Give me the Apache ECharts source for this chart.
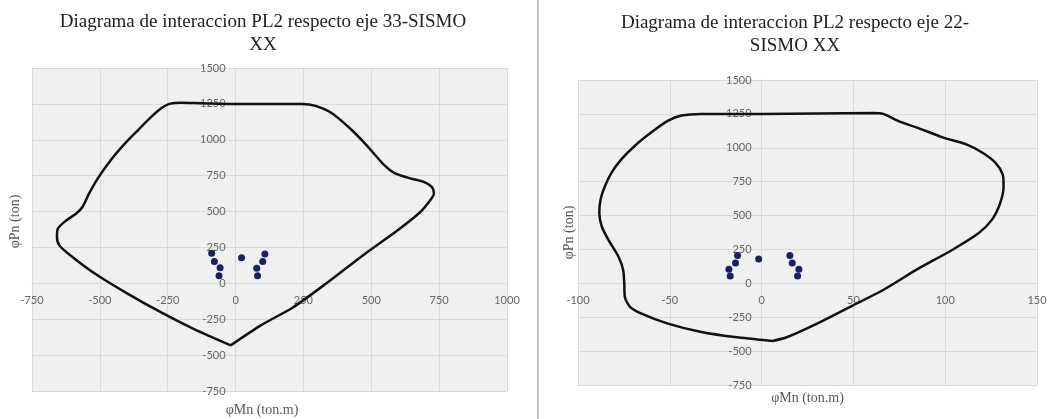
<!DOCTYPE html>
<html>
<head>
<meta charset="utf-8">
<title>Diagrama de interaccion PL2</title>
<script src="https://cdn.jsdelivr.net/npm/echarts@6/dist/echarts.min.js"></script>
<style>
  html, body { margin: 0; padding: 0; background: #fff; }
  #chart { width: 1058px; height: 419px; }
</style>
</head>
<body>
<div id="chart"></div>
<script>
// ticks of both charts
const xTicks33 = [-750, -500, -250, 0, 250, 500, 750, 1000];
const xTicks22 = [-100, -50, 0, 50, 100, 150];
const yTicks = [-750, -500, -250, 0, 250, 500, 750, 1000, 1250, 1500];

// interaction curve eje 33 [phiMn, phiPn]
const curve33 = [
  [-18, -432], [-153, -319], [-274, -203], [-395, -75], [-516, 65], [-600, 182],
  [-649, 264], [-658, 322], [-655, 380], [-624, 438], [-588, 485], [-564, 532],
  [-540, 625], [-504, 742], [-455, 870], [-407, 975], [-359, 1068], [-310, 1161],
  [-274, 1220], [-244, 1250], [-202, 1258], [-129, 1255], [0, 1250], [247, 1250],
  [295, 1236], [355, 1185], [428, 1068], [488, 951], [548, 823], [584, 770],
  [645, 730], [693, 707], [723, 672], [731, 625], [717, 578], [681, 497],
  [596, 368], [476, 205], [331, -5], [211, -168], [90, -296], [-18, -432]
];
// demand points eje 33
const loads33 = [
  [-88, 209], [-78, 152], [-57, 109], [-61, 52], [22, 179],
  [108, 205], [100, 152], [78, 105], [81, 52]
];

// interaction curve eje 22
const curve22 = [
  [6, -425], [-14.7, -396], [-32.8, -359], [-51, -297], [-65.4, -223], [-71.7, -173],
  [-74.5, -99], [-74.8, 0], [-75.4, 99], [-78, 198], [-83.5, 322], [-87.1, 421],
  [-88.4, 520], [-87.7, 619], [-85.3, 718], [-81.7, 817], [-76.3, 916], [-69, 1015],
  [-60, 1114], [-50.9, 1200], [-43.7, 1238], [-32.8, 1250], [0, 1250], [60.8, 1256],
  [66.2, 1250], [75.2, 1193], [84.2, 1151], [98.6, 1077], [111.2, 1027], [120.1, 965],
  [127.3, 891], [131.3, 804], [131.8, 718], [130, 594], [125.5, 470], [118.3, 371],
  [104, 248], [84.2, 99], [66.2, -49], [48.2, -173], [30.2, -297], [14, -396], [6, -425]
];
// demand points eje 22
const loads22 = [
  [-13.1, 206], [-14.2, 150], [-17.8, 103], [-17.1, 54], [-1.6, 179],
  [15.4, 206], [16.7, 150], [20.3, 103], [19.6, 54]
];

const titles = [
  'Diagrama de interaccion PL2 respecto eje 33-SISMO\nXX',
  'Diagrama de interaccion PL2 respecto eje 22-\nSISMO XX'
];

// plot boxes
const grids = [
  { left: 32, top: 68, width: 475, height: 323 },
  { left: 578, top: 80, width: 459, height: 305 }
];

const gridColor = '#dadada';
const labelStyle = { color: '#666', fontFamily: 'Lato', fontSize: 11, formatter: v => String(v) };
const nameStyle = { color: '#595959', fontFamily: 'Liberation Serif', fontSize: 14 };

// distance from the low plot edge to the zero line (axes cross at 0 like excel)
function zeroShift(ticks, size) {
  const lo = ticks[0], hi = ticks[ticks.length - 1];
  return (0 - lo) / (hi - lo) * size;
}

function titleOpt(text, x, y) {
  return {
    text: text,
    left: x,
    top: y,
    padding: 0,
    textAlign: 'center',
    textStyle: {
      fontFamily: 'Liberation Serif',
      fontSize: 19,
      fontWeight: 'normal',
      color: '#222',
      lineHeight: 23
    }
  };
}

function xAxisOpt(idx, ticks, gap, pad) {
  const g = grids[idx];
  return {
    type: 'value',
    gridIndex: idx,
    position: 'bottom',
    offset: -zeroShift(yTicks, g.height),
    min: ticks[0],
    max: ticks[ticks.length - 1],
    interval: ticks[1] - ticks[0],
    name: 'φMn (ton.m)',
    nameLocation: 'middle',
    nameGap: gap,
    nameTextStyle: Object.assign({ padding: pad }, nameStyle),
    axisLine: { show: true, onZero: false, lineStyle: { color: gridColor, width: 1 } },
    axisTick: { show: false },
    axisLabel: Object.assign({ margin: 12 }, labelStyle),
    splitLine: { show: true, lineStyle: { color: gridColor, width: 1 } }
  };
}

function yAxisOpt(idx, ticksX, gap, pad) {
  const g = grids[idx];
  return {
    type: 'value',
    gridIndex: idx,
    position: 'left',
    offset: -zeroShift(ticksX, g.width),
    min: yTicks[0],
    max: yTicks[yTicks.length - 1],
    interval: yTicks[1] - yTicks[0],
    name: 'φPn (ton)',
    nameLocation: 'middle',
    nameGap: gap,
    nameTextStyle: Object.assign({ padding: pad }, nameStyle),
    axisLine: { show: true, onZero: false, lineStyle: { color: gridColor, width: 1 } },
    axisTick: { show: false },
    axisLabel: Object.assign({ margin: 10 }, labelStyle),
    splitLine: { show: true, lineStyle: { color: gridColor, width: 1 } }
  };
}

function curveSeries(idx, data) {
  return {
    type: 'line',
    xAxisIndex: idx,
    yAxisIndex: idx,
    data: data,
    smooth: 0.25,
    showSymbol: false,
    clip: false,
    lineStyle: { color: '#111', width: 2.5 },
    z: 3
  };
}

function loadSeries(idx, data) {
  return {
    type: 'scatter',
    xAxisIndex: idx,
    yAxisIndex: idx,
    data: data,
    symbolSize: 7,
    itemStyle: { color: '#1b2160', opacity: 1 },
    z: 4
  };
}

const chart = echarts.init(document.getElementById('chart'), null, { renderer: 'canvas' });

chart.setOption({
  backgroundColor: '#fff',
  animation: false,
  title: [titleOpt(titles[0], 263, 11), titleOpt(titles[1], 795, 12)],
  grid: grids.map(g => Object.assign({
    show: true,
    backgroundColor: '#f0f0f0',
    borderWidth: 0,
    outerBoundsMode: 'none',
    containLabel: false
  }, g)),
  xAxis: [
    xAxisOpt(0, xTicks33, 120, [0, 15, 0, 0]),
    xAxisOpt(1, xTicks22, 108, [0, 0, 0, 0])
  ],
  yAxis: [
    yAxisOpt(0, xTicks33, 213, [0, 0, 0, 16]),
    yAxisOpt(1, xTicks22, 185, [0, 0, 0, 0])
  ],
  graphic: [
    { type: 'rect', shape: { x: 537, y: 0, width: 2, height: 419 }, style: { fill: '#c4c4c4' } }
  ],
  series: [
    curveSeries(0, curve33),
    loadSeries(0, loads33),
    curveSeries(1, curve22),
    loadSeries(1, loads22)
  ]
});
</script>
</body>
</html>
